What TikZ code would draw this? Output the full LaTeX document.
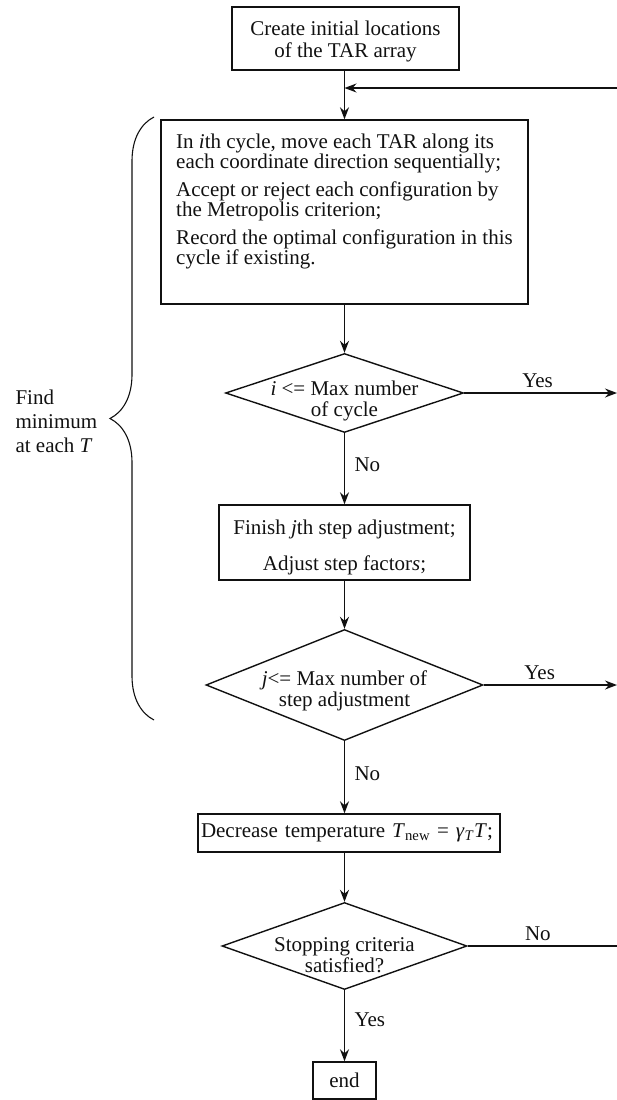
\documentclass[tikz,border=0pt]{standalone}
\usepackage{fontspec}
\setmainfont{Liberation Serif}
\usepackage{tikz}
\usetikzlibrary{arrows.meta,positioning,shapes.geometric,calc,decorations.pathreplacing}
\definecolor{ink}{HTML}{111111}
\tikzset{
  every node/.style={text=ink, font=\fontsize{21}{21}\selectfont},
  % boxes are sized by hand to the page
  box/.style={draw=ink, line width=1.4pt, align=center, inner sep=0pt},
  dec/.style={draw=ink, line width=1.4pt, diamond, align=center, inner xsep=-70pt, inner ysep=-30pt, text height=51.5pt},
  tag/.style={font=\fontsize{21}{24}\selectfont, text=ink},
  arr/.style={-{Stealth[length=12pt,width=9pt,inset=4pt]}, line width=1.4pt, color=ink},
  line/.style={line width=1.4pt, color=ink},
}

\begin{document}
\begin{tikzpicture}[x=1pt,y=-1pt]
  \useasboundingbox (0,0) rectangle (617,1100);

  % ---- inner loop: cycles and step adjustment ----
  \node[box, minimum width=227, minimum height=63, text height=42pt] (init) at (345.5,38.5)
        {Create initial locations\\[1pt]of the TAR array};
  \node[box, minimum width=367, minimum height=184, align=left, inner xsep=12pt, text depth=26.5pt,
        font=\fontsize{21}{20}\selectfont] (cycle) at (344.5,212)
        {In \textit{i}th cycle, move each TAR along its\\each coordinate direction sequentially;\\[8pt]
         Accept or reject each configuration by\\the Metropolis criterion;\\[8pt]
         Record the optimal configuration in this\\cycle if existing.};
  \node[dec, minimum width=238, minimum height=79] (imax) at (344.5,393)
        {\textit{i} <= Max number\\of cycle};
  \node[box, minimum width=251, minimum height=75, text height=60.5pt] (adj) at (344.5,542.5)
        {Finish \textit{j}th step adjustment;\\[15pt]Adjust step factor\textit{s};};
  \node[dec, minimum width=277, minimum height=111, text height=48pt] (jmax) at (344.5,685)
        {\textit{j}<= Max number of\\step adjustment};

  % ---- outer loop: temperature ----
  \node[box, minimum width=302, minimum height=38, text width=296pt, align=left, inner xsep=3pt] (temp) at (349,833)
        {Decrease temperature \textit{T}\textsubscript{new} = \textit{γ}\textsubscript{\textit{T}}\textit{T};};
  \node[dec, minimum width=245, minimum height=87, text height=53.5pt] (stop) at (344.5,946)
        {Stopping criteria\\satisfied?};
  \node[box, minimum width=63, minimum height=37] (fin) at (344.5,1080.5) {end};

  % right-hand ends of the feedback lines
  \coordinate (back) at (617,88);
  \coordinate (join) at (344.5,88);
  \coordinate (r1) at (617,393);
  \coordinate (r2) at (617,685);
  \coordinate (r3) at (617,946);

  \draw[line] (init.south -| join) -- (join);
  \draw[arr] (join) -- (cycle.north -| join);
  \draw[arr] (back) -- (join);
  \draw[arr] (cycle) -- (imax);
  \draw[arr] (imax) -- node[tag,right=6pt,pos=0.45]{No} (adj);
  \draw[arr] (adj) -- (jmax);
  \draw[arr] (jmax.south) -- node[tag,right=6pt,pos=0.45]{No} (jmax.south |- temp.north);
  \draw[arr] (jmax.south |- temp.south) -- (stop.north);
  \draw[arr] (stop) -- node[tag,right=6pt,pos=0.42]{Yes} (fin);

  \draw[arr]  (imax.east) -- node[tag,above=1pt,pos=0.48]{Yes} (r1);
  \draw[arr]  (jmax.east) -- node[tag,above=1pt,pos=0.42]{Yes} (r2);
  \draw[line] (stop.east) -- node[tag,above=1pt,pos=0.47]{No} (r3);

  % ---- brace over the inner loop ----
  \coordinate (bbot) at (154,720);
  \coordinate (btop) at (154,117);
  \draw[line, line width=1.1pt, decorate, decoration={brace, amplitude=44pt}] (bbot) -- (btop);
  \node[tag, anchor=west, align=left] (findmin) at (12,421) {Find\\minimum\\at each \textit{T}};
\end{tikzpicture}
\end{document}
